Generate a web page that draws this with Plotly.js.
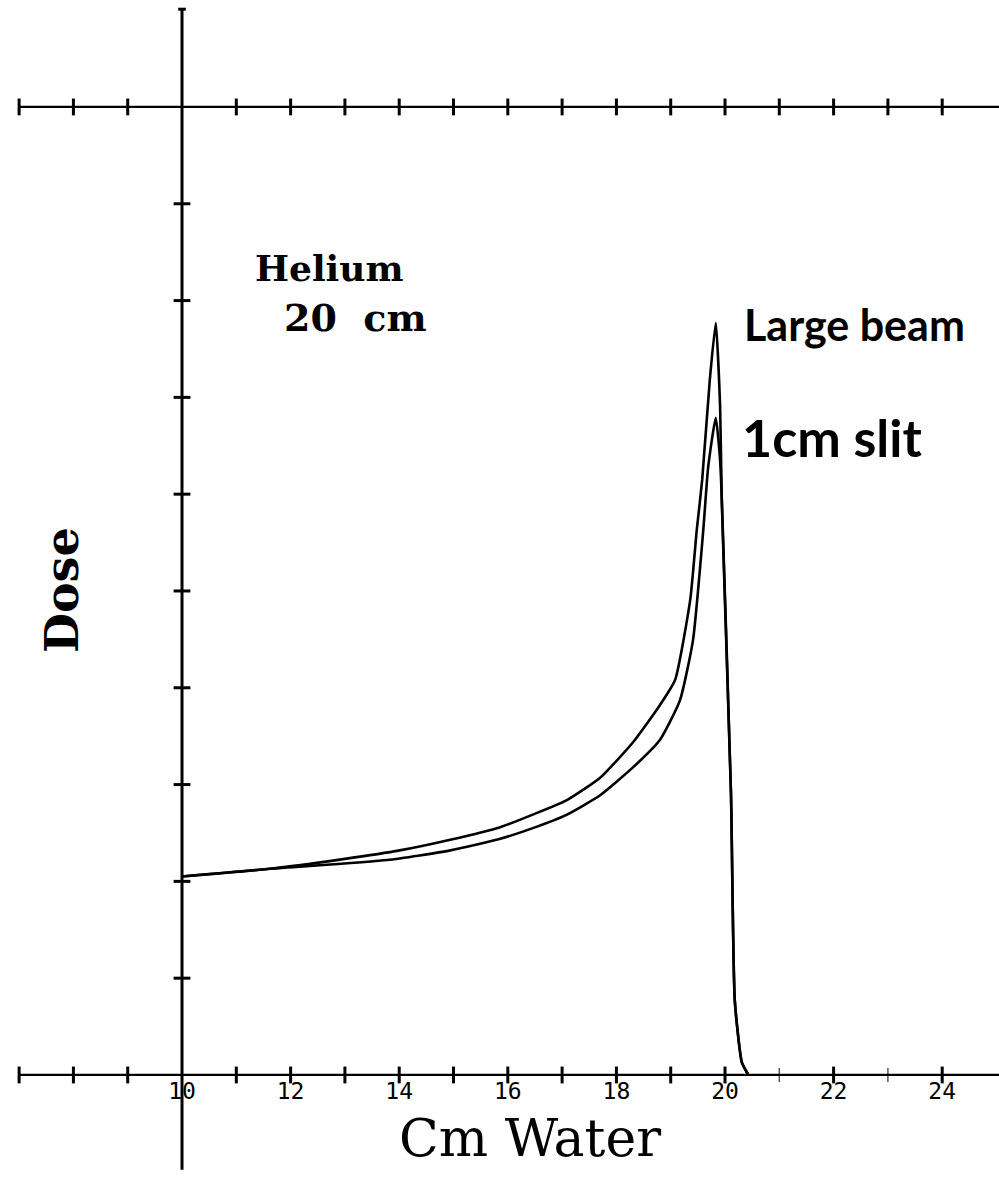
<!DOCTYPE html>
<html>
<head>
<meta charset="utf-8">
<script src="https://cdn.plot.ly/plotly-3.0.1.min.js"></script>
<style>
  html, body { margin: 0; padding: 0; background: #ffffff; }
  #chart { width: 999px; height: 1183px; }
</style>
</head>
<body>
<div id="chart"></div>
<script>
// Depth in water (cm)
const depthLarge = [10.0, 11.62, 12.97, 14.01, 14.94, 15.86, 16.46, 17.09, 17.70, 18.31, 18.80, 19.08, 19.36, 19.48, 19.58, 19.72, 19.83, 19.91, 19.94, 20.11, 20.18, 20.31, 20.42];
// Relative dose, large beam
const doseLarge  = [2.05, 2.13, 2.23, 2.32, 2.43, 2.56, 2.69, 2.84, 3.07, 3.44, 3.82, 4.08, 4.91, 5.63, 6.15, 7.18, 7.77, 6.90, 5.94, 2.91, 0.77, 0.13, 0.01];

const depthSlit = [10.0, 11.62, 13.78, 14.94, 15.86, 16.46, 17.09, 17.70, 18.31, 18.80, 19.17, 19.41, 19.60, 19.69, 19.83, 19.91, 19.94, 20.11, 20.18, 20.31, 20.42];
// Relative dose, 1 cm slit
const doseSlit  = [2.05, 2.13, 2.22, 2.32, 2.44, 2.55, 2.69, 2.89, 3.18, 3.46, 3.87, 4.49, 5.63, 6.28, 6.79, 6.35, 5.97, 2.91, 0.77, 0.13, 0.01];

// Axis tick positions
const xTicksSolid = [7, 8, 9, 11, 12, 13, 14, 15, 16, 17, 18, 19, 20, 22, 24];
const xTicksFaint = [21, 23];
const yTicks = [1, 2, 3, 4, 5, 6, 7, 8, 9];
const xLabelVals = [10, 12, 14, 16, 18, 20, 22, 24];
const xLabelText = ['10', '12', '14', '16', '18', '20', '22', '24'];

const INK = '#000000';

const traces = [
  {
    x: depthLarge, y: doseLarge, type: 'scatter', mode: 'lines',
    line: { color: INK, width: 2.6, shape: 'spline', smoothing: 0.5 },
    hoverinfo: 'skip', showlegend: false
  },
  {
    x: depthSlit, y: doseSlit, type: 'scatter', mode: 'lines',
    line: { color: INK, width: 2.6, shape: 'spline', smoothing: 0.5 },
    hoverinfo: 'skip', showlegend: false
  },
  // tick marks on the bottom axis (dose = 0)
  {
    x: xTicksSolid, y: xTicksSolid.map(() => 0), type: 'scatter', mode: 'markers',
    marker: { symbol: 'line-ns', size: 12, line: { color: INK, width: 3 } },
    hoverinfo: 'skip', showlegend: false
  },
  {
    x: xTicksFaint, y: xTicksFaint.map(() => 0), type: 'scatter', mode: 'markers',
    marker: { symbol: 'line-ns', size: 10, line: { color: '#555', width: 1.5 } },
    hoverinfo: 'skip', showlegend: false
  },
  // tick marks on the top axis (dose = 10)
  {
    x: xTicksSolid.concat(xTicksFaint), y: xTicksSolid.concat(xTicksFaint).map(() => 10), type: 'scatter', mode: 'markers',
    marker: { symbol: 'line-ns', size: 12, line: { color: INK, width: 3 } },
    hoverinfo: 'skip', showlegend: false
  },
  // tick marks on the dose axis (depth = 10)
  {
    x: yTicks.map(() => 10), y: yTicks, type: 'scatter', mode: 'markers',
    marker: { symbol: 'line-ew', size: 12, line: { color: INK, width: 3 } },
    hoverinfo: 'skip', showlegend: false
  }
];

const shapes = [
  // bottom axis
  { type: 'line', xref: 'x', yref: 'y', x0: 7, x1: 25.1, y0: 0, y1: 0, line: { color: INK, width: 2.2 } },
  // top axis
  { type: 'line', xref: 'x', yref: 'y', x0: 7, x1: 25.1, y0: 10, y1: 10, line: { color: INK, width: 2.2 } },
  // dose axis
  { type: 'line', xref: 'x', yref: 'y', x0: 10, x1: 10, y0: -0.98, y1: 11.01, line: { color: INK, width: 3 } },
  // end cap
  { type: 'line', xref: 'x', yref: 'y', x0: 9.93, x1: 10.07, y0: 11.01, y1: 11.01, line: { color: INK, width: 3 } }
];

const serif = 'DejaVu Serif, serif';
const hand = 'Lato, Noto Sans, sans-serif';

const annotations = [
  { x: 12.71, y: 8.34, xref: 'x', yref: 'y', text: '<b>Helium</b>', showarrow: false,
    font: { family: serif, size: 36, color: INK } },
  { x: 13.2, y: 7.82, xref: 'x', yref: 'y', text: '<b>20&nbsp;&nbsp;cm</b>', showarrow: false,
    font: { family: serif, size: 38, color: INK } },
  { x: 20.31, y: 7.75, xref: 'x', yref: 'y', text: '<b>Large beam</b>', showarrow: false, xanchor: 'left',
    font: { family: hand, size: 43, color: INK } },
  { x: 20.28, y: 6.59, xref: 'x', yref: 'y', text: '<b>1cm slit</b>', showarrow: false, xanchor: 'left',
    font: { family: hand, size: 52, color: INK } },
  { x: 7.79, y: 5.01, xref: 'x', yref: 'y', text: '<b>Dose</b>', showarrow: false, textangle: -90,
    font: { family: serif, size: 46, color: INK } },
  { x: 16.41, y: -0.65, xref: 'x', yref: 'y', text: 'Cm Water', showarrow: false,
    font: { family: serif, size: 52, color: INK } }
];

const layout = {
  width: 999, height: 1183,
  margin: { l: 0, r: 0, t: 0, b: 0, pad: 0 },
  paper_bgcolor: '#ffffff', plot_bgcolor: '#ffffff',
  showlegend: false,
  xaxis: {
    range: [6.648, 25.046], showgrid: false, zeroline: false, showline: false,
    anchor: 'free', position: 0.0913,
    tickmode: 'array', tickvals: xLabelVals, ticktext: xLabelText, ticks: '',
    tickfont: { family: 'DejaVu Sans Mono, monospace', size: 23, color: INK },
    fixedrange: true
  },
  yaxis: {
    range: [-1.116, 11.105], visible: false, showgrid: false, zeroline: false, fixedrange: true
  },
  shapes: shapes,
  annotations: annotations
};

Plotly.newPlot('chart', traces, layout, { staticPlot: true, displayModeBar: false });
</script>
</body>
</html>
